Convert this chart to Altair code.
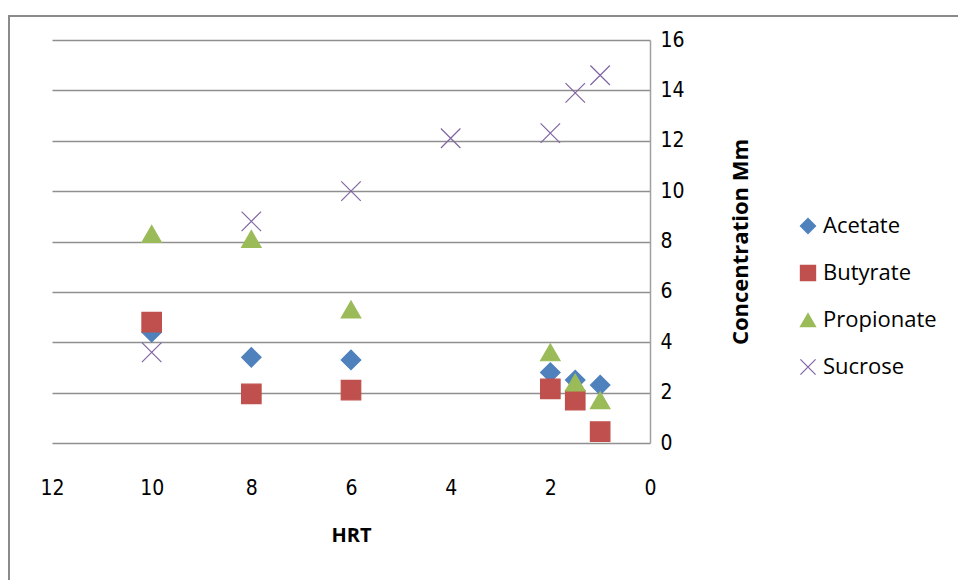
import altair as alt
import pandas as pd

series_names = ["Acetate", "Butyrate", "Propionate", "Sucrose"]
series_colors = ["#4F81BD", "#C0504D", "#9BBB59", "#8064A2"]
series_shapes = ["diamond", "square", "triangle-up", "M-1,-1L1,1M-1,1L1,-1"]

hrt_acetate = [10, 8, 6, 2, 1.5, 1]
acetate = [4.4, 3.4, 3.3, 2.8, 2.5, 2.3]
hrt_butyrate = [10, 8, 6, 2, 1.5, 1]
butyrate = [4.8, 1.95, 2.1, 2.15, 1.7, 0.45]
hrt_propionate = [10, 8, 6, 2, 1.5, 1]
propionate = [8.3, 8.1, 5.3, 3.6, 2.4, 1.7]
hrt_sucrose = [10, 8, 6, 4, 2, 1.5, 1]
sucrose = [3.6, 8.8, 10.0, 12.1, 12.3, 13.9, 14.6]

rows = []
for name, xs, ys in [
    ("Acetate", hrt_acetate, acetate),
    ("Butyrate", hrt_butyrate, butyrate),
    ("Propionate", hrt_propionate, propionate),
    ("Sucrose", hrt_sucrose, sucrose),
]:
    for xv, yv in zip(xs, ys):
        rows.append({"HRT": xv, "Concentration": yv, "series": name})
df = pd.DataFrame(rows)

FONT = "Liberation Sans Narrow, DejaVu Sans Condensed, Liberation Sans, sans-serif"
TITLE_FONT = "Open Sans, Liberation Sans, sans-serif"

legend_kw = dict(
    title=None, orient="none", legendX=745, legendY=175,
    labelFont=TITLE_FONT, labelFontSize=22, labelColor="#000",
    symbolSize=230, rowPadding=25, labelOffset=4, symbolStrokeWidth=1.2,
)

frame = alt.Chart(pd.DataFrame({"a": [0]})).mark_rect(
    fill=None, stroke="#8a8a8a", strokeWidth=2, clip=False
).encode(
    x=alt.value(-43), x2=alt.value(960), y=alt.value(-24), y2=alt.value(600)
)

points = alt.Chart(df).mark_point(filled=True, size=380, strokeWidth=1.2, opacity=1).encode(
    x=alt.X(
        "HRT:Q",
        scale=alt.Scale(domain=[0, 12], reverse=True, nice=False),
        axis=alt.Axis(
            values=[0, 2, 4, 6, 8, 10, 12], grid=False, domain=False, ticks=False,
            labelFlush=False, labelOverlap=False,
            labelPadding=34, labelFontSize=21, labelFont=FONT, labelColor="#000",
            title="HRT", titleFont=TITLE_FONT, titleFontSize=20, titleFontWeight="bold",
            titlePadding=27, titleColor="#000",
        ),
    ),
    y=alt.Y(
        "Concentration:Q",
        scale=alt.Scale(domain=[0, 16], nice=False),
        axis=alt.Axis(
            orient="right", values=[0, 2, 4, 6, 8, 10, 12, 14, 16],
            grid=True, gridColor="#8f8f8f", gridWidth=1.5,
            domain=True, domainColor="#a0a0a0", domainWidth=1.5, ticks=False,
            labelFlush=False, labelOverlap=False,
            labelPadding=10, labelFontSize=21, labelFont=FONT, labelColor="#000",
            title="Concentration Mm", titleFont=TITLE_FONT, titleFontSize=22,
            titleFontWeight="bold", titleAngle=270, titlePadding=68, titleColor="#000",
        ),
    ),
    color=alt.Color(
        "series:N",
        scale=alt.Scale(domain=series_names, range=series_colors),
        legend=alt.Legend(**legend_kw),
    ),
    stroke=alt.Stroke(
        "series:N",
        scale=alt.Scale(domain=series_names, range=series_colors),
        legend=alt.Legend(**legend_kw),
    ),
    shape=alt.Shape(
        "series:N",
        scale=alt.Scale(domain=series_names, range=series_shapes),
        legend=alt.Legend(**legend_kw),
    ),
)

chart = alt.layer(frame, points).properties(
    width=598, height=403,
    autosize=alt.AutoSizeParams(type="none"),
    padding={"left": 52, "top": 40, "right": 308, "bottom": 137},
    background="white",
).configure_view(stroke=None)

chart.save("out.html", embed_options={"renderer": "svg", "actions": False})
